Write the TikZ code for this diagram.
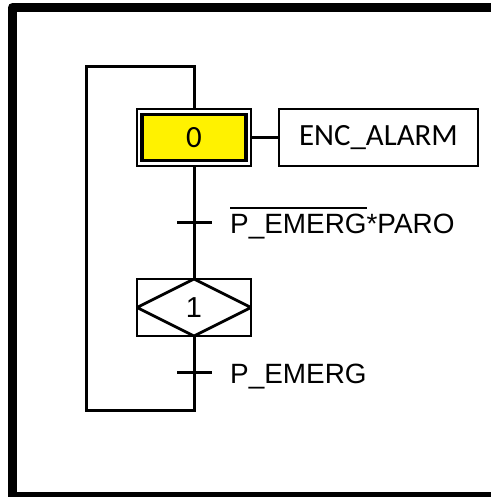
\documentclass[tikz,border=0pt]{standalone}
\usepackage{fontspec}
\setmainfont{Liberation Sans}
\newfontfamily\calfont{Carlito}
\newcommand{\negsig}[1]{\setbox0\hbox{#1}\rlap{\rule[24.5bp]{\wd0}{2bp}}\box0}
\tikzset{
    link/.style={line width=3bp},
    stepbox/.style={draw,line width=2.8bp,minimum width=114bp,minimum height=57bp,inner sep=0pt},
    initouter/.style={draw,line width=2.2bp,minimum width=114bp,minimum height=57bp,inner sep=0pt},
    initinner/.style={draw,line width=3.4bp,fill=yellow,minimum width=104bp,minimum height=46bp,inner sep=0pt,font=\calfont\fontsize{31}{33}\selectfont},
    actionbox/.style={draw,line width=2.8bp,minimum width=199bp,minimum height=57bp,inner sep=0pt,font=\calfont\fontsize{31}{33}\selectfont},
    cond/.style={inner sep=0pt,anchor=base west,font=\fontsize{28}{30}\selectfont}
}
\begin{document}
\begin{tikzpicture}[x=1bp,y=-1bp]
        \useasboundingbox (0,0) rectangle (491,497);
        %% Frame
        \draw[line width=9bp,line join=round] (12.5,7.5) rectangle (500,496);
        %% Steps
        \node[initouter] (s0) at (194,137.5) {};
        \node[initinner] (s0in) at (s0) {0};
        \node[actionbox] (act) at (378.5,137.5) {ENC\_ALARM};
        \node[stepbox,path picture={
            \draw[line width=2.8bp] (path picture bounding box.north) -- (path picture bounding box.east)
              -- (path picture bounding box.south) -- (path picture bounding box.west) -- cycle;}]
            (s1) at (194,307.5) {\fontsize{29}{31}\selectfont 1};
        %% Transitions
        \coordinate (t0) at (194,222);
        \coordinate (t1) at (194,372);
        \node[cond] (c0) at (230,233) {\negsig{P\_EMERG}*PARO};
        \node[cond] (c1) at (230,383) {P\_EMERG};
        %% Links
        \coordinate (lb) at (86,410);
        \coordinate (lt) at (86,67);
        \draw[link] (s0.east) -- (act.west);
        \draw[link] (s0.south) -- (s1.north);
        \draw[link,line join=miter] (s1.south) |- (lb) -- (lt) -| (s0.north);
        \draw[link] ([xshift=-17bp]t0) -- ([xshift=18bp]t0);
        \draw[link] ([xshift=-17bp]t1) -- ([xshift=18bp]t1);
    \end{tikzpicture}
\end{document}
